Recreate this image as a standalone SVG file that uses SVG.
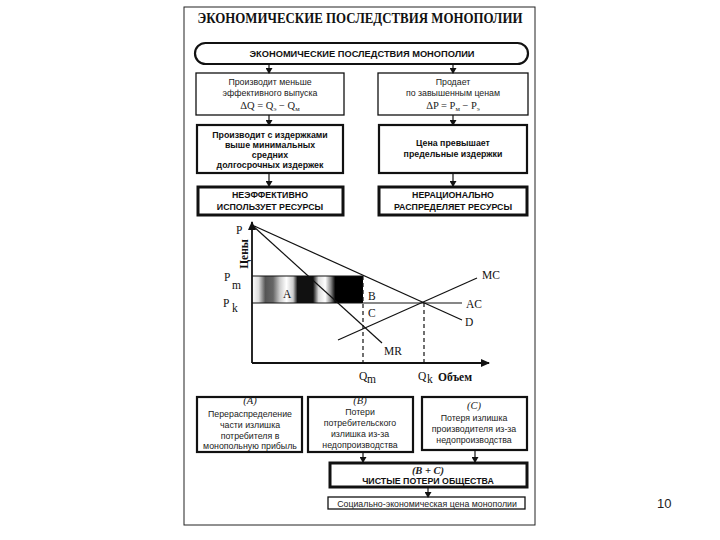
<svg xmlns="http://www.w3.org/2000/svg" width="720" height="540" viewBox="0 0 720 540">
<style>
.box{fill:#fff;stroke:#111;stroke-width:1.3}
.thick{fill:#fff;stroke:#111;stroke-width:2.2}
.thicker{fill:#fff;stroke:#111;stroke-width:3}
.t{font-family:"Liberation Sans",Arial,sans-serif;font-size:8.8px;fill:#222;text-anchor:middle}
.tb{font-family:"Liberation Sans",Arial,sans-serif;font-size:8.8px;font-weight:bold;fill:#111;text-anchor:middle}
.f{font-family:"Liberation Serif","Times New Roman",serif;font-size:10.5px;fill:#222;text-anchor:middle}
.g{font-family:"Liberation Serif","Times New Roman",serif;font-size:11.5px;fill:#111}
.c{stroke:#111;stroke-width:1.2;fill:none}
.ln{stroke:#111;stroke-width:1.8;fill:none}
.dash{stroke:#111;stroke-width:1.2;stroke-dasharray:4 3;fill:none}
</style>
<defs>
<marker id="ah" markerWidth="6" markerHeight="7" refX="5" refY="3.5" orient="auto" markerUnits="userSpaceOnUse"><path d="M0,0 L6,3.5 L0,7 z" fill="#111"/></marker>
<marker id="ax" markerWidth="9" markerHeight="8" refX="8" refY="4" orient="auto" markerUnits="userSpaceOnUse"><path d="M0,0 L9,4 L0,8 z" fill="#111"/></marker>
<linearGradient id="shade" gradientUnits="userSpaceOnUse" x1="252" y1="0" x2="363" y2="0">
<stop offset="0" stop-color="#fff"/>
<stop offset="0.06" stop-color="#ddd"/>
<stop offset="0.12" stop-color="#555"/>
<stop offset="0.19" stop-color="#666"/>
<stop offset="0.25" stop-color="#ccc"/>
<stop offset="0.31" stop-color="#fff"/>
<stop offset="0.37" stop-color="#ccc"/>
<stop offset="0.41" stop-color="#111"/>
<stop offset="0.55" stop-color="#111"/>
<stop offset="0.6" stop-color="#ddd"/>
<stop offset="0.66" stop-color="#fff"/>
<stop offset="0.71" stop-color="#888"/>
<stop offset="0.75" stop-color="#000"/>
<stop offset="1" stop-color="#000"/>
</linearGradient>
</defs>
<rect width="720" height="540" fill="#fff"/>
<rect x="184" y="7" width="351" height="518" fill="none" stroke="#222" stroke-width="1"/>
<text x="360" y="23" font-family="Liberation Serif,'Times New Roman',serif" font-size="14.5" font-weight="bold" fill="#111" text-anchor="middle" textLength="325" lengthAdjust="spacingAndGlyphs">ЭКОНОМИЧЕСКИЕ ПОСЛЕДСТВИЯ МОНОПОЛИИ</text>

<g id="n-root">
<rect x="195" y="43" width="333" height="21" rx="10.5" ry="10.5" class="thick"/>
<text x="362" y="57" class="tb" font-size="9.3" textLength="225" lengthAdjust="spacingAndGlyphs">ЭКОНОМИЧЕСКИЕ ПОСЛЕДСТВИЯ МОНОПОЛИИ</text>
</g>

<g id="n-less-output">
<rect x="196" y="73" width="148" height="42" class="box"/>
<text x="270" y="85" class="t" font-size="9">Производит меньше</text>
<text x="270" y="96" class="t" font-size="9">эффективного выпуска</text>
<text x="270" y="109" class="f">ΔQ = Q<tspan font-size="7" dy="2">э</tspan><tspan dy="-2"> − Q</tspan><tspan font-size="7" dy="2">м</tspan></text>
</g>

<g id="n-high-price">
<rect x="378" y="73" width="150" height="42" class="box"/>
<text x="453" y="85" class="t" font-size="9">Продает</text>
<text x="453" y="96" class="t" font-size="9">по завышенным ценам</text>
<text x="453" y="109" class="f">ΔP = P<tspan font-size="7" dy="2">м</tspan><tspan dy="-2"> − P</tspan><tspan font-size="7" dy="2">э</tspan></text>
</g>

<g id="n-high-cost">
<rect x="197" y="125" width="146" height="48" class="thick"/>
<text x="270" y="138" class="tb" font-size="8.6">Производит с издержками</text>
<text x="270" y="148" class="tb" font-size="8.6">выше минимальных</text>
<text x="270" y="158" class="tb" font-size="8.6">средних</text>
<text x="270" y="168" class="tb" font-size="8.6">долгосрочных издержек</text>
</g>

<g id="n-price-mc">
<rect x="379" y="125" width="148" height="48" class="thick"/>
<text x="453" y="146" class="tb" font-size="8.6">Цена превышает</text>
<text x="453" y="157" class="tb" font-size="8.6">предельные издержки</text>
</g>

<g id="n-inefficient">
<rect x="198" y="187" width="145" height="28" class="thicker"/>
<text x="270" y="198" class="tb">НЕЭФФЕКТИВНО</text>
<text x="270" y="210" class="tb">ИСПОЛЬЗУЕТ РЕСУРСЫ</text>
</g>

<g id="n-irrational">
<rect x="379" y="187" width="148" height="28" class="thicker"/>
<text x="453" y="198" class="tb">НЕРАЦИОНАЛЬНО</text>
<text x="453" y="210" class="tb">РАСПРЕДЕЛЯЕТ РЕСУРСЫ</text>
</g>

<g id="chart">
<rect x="252" y="276" width="111" height="27" fill="url(#shade)"/>
<line x1="252" y1="363" x2="252" y2="222" class="ln" marker-end="url(#ax)"/>
<line x1="252" y1="363" x2="489" y2="363" class="ln" marker-end="url(#ax)"/>
<line x1="252" y1="276" x2="363" y2="276" class="c" stroke-width="1.5"/>
<line x1="252" y1="303" x2="462" y2="303" class="c" stroke-width="1.5"/>
<line x1="252" y1="225" x2="462" y2="320" class="c" stroke-width="1.6"/>
<line x1="252" y1="225" x2="382" y2="343" class="c" stroke-width="1.6"/>
<line x1="338" y1="340" x2="477" y2="278" class="c" stroke-width="1.6"/>
<line x1="363" y1="276" x2="363" y2="363" class="dash"/>
<line x1="424" y1="303" x2="424" y2="363" class="dash"/>
<text x="236" y="234" class="g">P</text>
<text transform="translate(248,254) rotate(-90)" class="g" font-size="10.5" font-weight="bold" text-anchor="middle">Цены</text>
<text x="224" y="281" class="g">P</text>
<text x="232" y="289" class="g" font-size="10">m</text>
<text x="223" y="307" class="g">P</text>
<text x="232" y="312" class="g" font-size="10">k</text>
<text x="283" y="298" class="g" font-size="11">A</text>
<text x="368" y="300" class="g" font-size="11">B</text>
<text x="368" y="317" class="g" font-size="11">C</text>
<text x="482" y="279" class="g">MC</text>
<text x="466" y="308" class="g">AC</text>
<text x="465" y="326" class="g">D</text>
<text x="384" y="355" class="g">MR</text>
<text x="359" y="380" class="g">Q</text>
<text x="367" y="383" class="g" font-size="9">m</text>
<text x="418" y="380" class="g">Q</text>
<text x="427" y="383" class="g" font-size="9">k</text>
<text x="438" y="381" class="g" font-size="10" font-weight="bold">Объем</text>
</g>

<g id="n-a">
<rect x="197" y="397" width="105" height="55" class="thick"/>
<text x="250" y="404" class="f" font-style="italic" font-size="10">(A)</text>
<text x="250" y="417" class="t" font-size="8.5">Перераспределение</text>
<text x="250" y="428" class="t" font-size="8.5">части излишка</text>
<text x="250" y="439" class="t" font-size="8.5">потребителя в</text>
<text x="250" y="449" class="t" font-size="8.5">монопольную прибыль</text>
</g>

<g id="n-b">
<rect x="308" y="397" width="105" height="55" class="thick"/>
<text x="360" y="404" class="f" font-style="italic" font-size="10">(B)</text>
<text x="360" y="415" class="t" font-size="8.5">Потери</text>
<text x="360" y="426" class="t" font-size="8.5">потребительского</text>
<text x="360" y="437" class="t" font-size="8.5">излишка из-за</text>
<text x="360" y="448" class="t" font-size="8.5">недопроизводства</text>
</g>

<g id="n-c">
<rect x="422" y="397" width="105" height="53" class="thick"/>
<text x="474" y="409" class="f" font-style="italic" font-size="10">(C)</text>
<text x="474" y="421" class="t" font-size="8.5">Потеря излишка</text>
<text x="474" y="432" class="t" font-size="8.5">производителя из-за</text>
<text x="474" y="443" class="t" font-size="8.5">недопроизводства</text>
</g>

<g id="n-bc">
<rect x="330" y="463" width="197" height="24" class="thicker"/>
<text x="428" y="474" class="f" font-style="italic" font-weight="bold" font-size="10">(B + C)</text>
<text x="428" y="484" class="tb">ЧИСТЫЕ ПОТЕРИ ОБЩЕСТВА</text>
</g>

<g id="n-social">
<rect x="328" y="497" width="197" height="12" class="box"/>
<text x="427" y="506.5" class="t" font-size="8.5">Социально-экономическая цена монополии</text>
</g>

<g id="connectors">
<line x1="269" y1="64" x2="269" y2="73" class="c" marker-end="url(#ah)"/>
<line x1="453" y1="64" x2="453" y2="73" class="c" marker-end="url(#ah)"/>
<line x1="269" y1="115" x2="269" y2="125" class="c" marker-end="url(#ah)"/>
<line x1="453" y1="115" x2="453" y2="125" class="c" marker-end="url(#ah)"/>
<line x1="269" y1="173" x2="269" y2="186" class="c" marker-end="url(#ah)"/>
<line x1="453" y1="173" x2="453" y2="186" class="c" marker-end="url(#ah)"/>
<line x1="363" y1="452" x2="363" y2="462" class="c" marker-end="url(#ah)"/>
<line x1="475" y1="450" x2="475" y2="462" class="c" marker-end="url(#ah)"/>
<line x1="428" y1="487" x2="428" y2="497" class="c" marker-end="url(#ah)"/>
</g>

<text x="657" y="508" font-family="Liberation Sans,Arial,sans-serif" font-size="13" fill="#222">10</text>
</svg>
